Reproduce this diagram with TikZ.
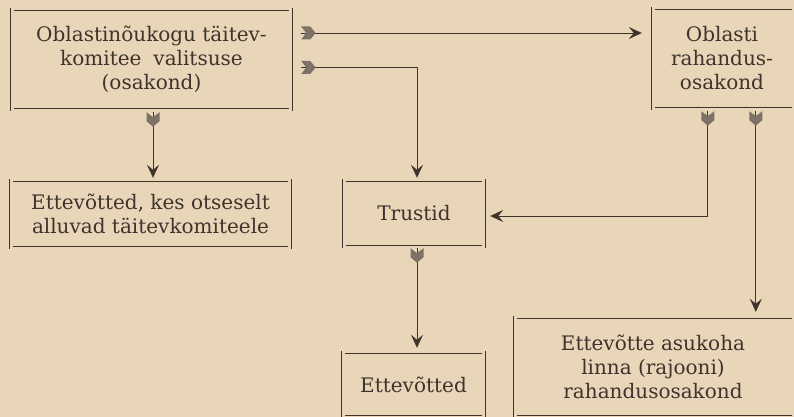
\documentclass[tikz,border=0pt]{standalone}
\usepackage{fontspec}
\setmainfont{DejaVu Serif}
\usetikzlibrary{arrows.meta,calc}
\definecolor{paper}{RGB}{233,214,185}
\definecolor{ink}{RGB}{62,52,45}
\definecolor{feathergray}{RGB}{125,113,103}
\tikzset{
  box/.style={rectangle, draw=none, inner sep=0pt, align=center, text=ink,
    font=\fontsize{20}{24}\selectfont},
  frm/.style={draw=ink, line width=0.8pt},
  conn/.style={draw=ink, line width=0.7pt},
  arr/.style={conn, -{Stealth[length=13pt,width=12pt,inset=5pt]}},
  pics/fl/.style={code={
    \fill[feathergray] (0,6.5) -- (5,6.5) -- (10,0) -- (5,-6.5) -- (0,-6.5) -- (5,0) -- cycle;
    \fill[feathergray] (5,6.5) -- (9,6.5) -- (14.5,0) -- (9,-6.5) -- (5,-6.5) -- (10,0) -- cycle;
  }},
}
\begin{document}
\begin{tikzpicture}[x=1pt,y=-1pt]
\fill[paper] (0,0) rectangle (794,417);
\useasboundingbox (0,0) rectangle (794,417);

\node[box, minimum width=281pt, minimum height=97pt] (A) at (151.5,59.5)
  {Oblastinõukogu täitev-\\komitee\hspace{0.6em}valitsuse\\(osakond)};
\node[box, minimum width=140pt, minimum height=97pt] (B) at (722,58.5)
  {Oblasti\\rahandus-\\osakond};
\node[box, minimum width=281pt, minimum height=64pt] (C) at (150.5,214)
  {Ettevõtted, kes otseselt\\alluvad täitevkomiteele};
\node[box, minimum width=142pt, minimum height=63pt] (D) at (414,213.5)
  {Trustid};
\node[box, minimum width=143pt, minimum height=61pt] (E) at (413.5,384.5)
  {Ettevõtted};
\node[box, minimum width=278pt, minimum height=96pt] (F) at (653,367)
  {Ettevõtte asukoha\\linna (rajooni)\\rahandusosakond};

\foreach \n in {A,C,D,E} {
  \draw[frm] ([xshift=3pt]\n.north west) -- ([xshift=-3pt]\n.north east);
  \draw[frm] ([xshift=3pt]\n.south west) -- ([xshift=-3pt]\n.south east);
  \draw[frm] ([yshift=3pt]\n.north west) -- ([yshift=-3pt]\n.south west);
  \draw[frm] ([yshift=3pt]\n.north east) -- ([yshift=-3pt]\n.south east);
}
\foreach \n in {B,F} {
  \draw[frm] ([xshift=3pt]\n.north west) -- (\n.north east);
  \draw[frm] ([xshift=3pt]\n.south west) -- (\n.south east);
  \draw[frm] ([yshift=3pt]\n.north west) -- ([yshift=-3pt]\n.south west);
}

\coordinate (s1) at ($(A.east)+(9,-26.5)$);
\coordinate (s2) at ($(A.east)+(9,8)$);
\coordinate (s3) at ($(A.south)+(1.5,4)$);
\coordinate (s4) at ($(B.south west)+(56,4)$);
\coordinate (s5) at ($(B.south west)+(104,4)$);
\coordinate (s6) at ($(D.south)+(3,3)$);

\draw[arr, shorten >=10pt] (s1) -- (s1 -| B.west);
\draw[arr, shorten >=4pt] (s2) -| ([xshift=3pt]D.north);
\draw[arr, shorten >=4pt] (s3) -- (s3 |- C.north);
\draw[arr, shorten >=5pt] (s4) |- ([yshift=-2.5pt]D.east);
\draw[arr, shorten >=7pt] (s5) -- (s5 |- F.north);
\draw[arr, shorten >=6pt] (s6) -- (s6 |- E.north);

\pic at (s1) {fl};
\pic at (s2) {fl};
\pic[rotate=-90] at (s3) {fl};
\pic[rotate=-90] at (s4) {fl};
\pic[rotate=-90] at (s5) {fl};
\pic[rotate=-90] at (s6) {fl};
\end{tikzpicture}
\end{document}
